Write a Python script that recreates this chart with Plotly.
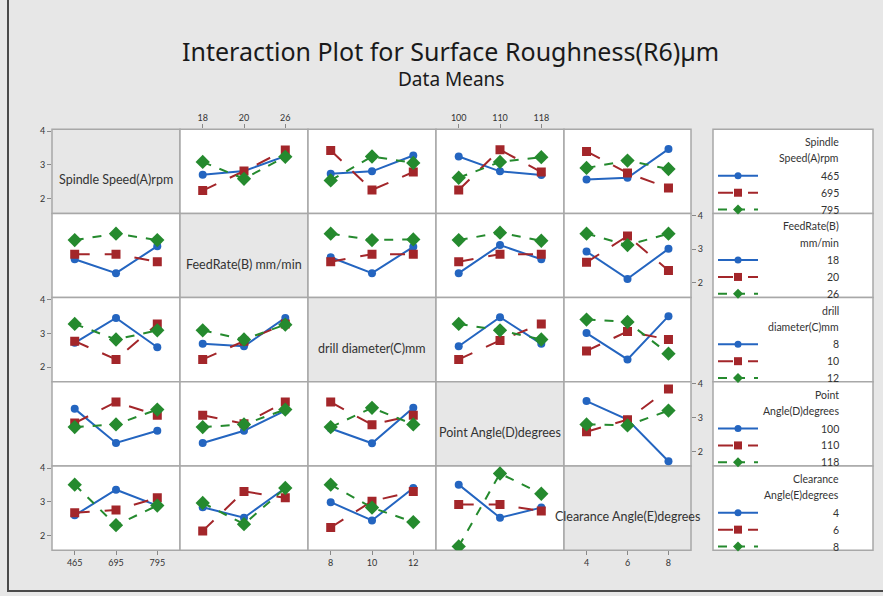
import plotly.graph_objects as go

W, H = 883, 596

factor_labels = ["Spindle Speed(A)rpm", "FeedRate(B) mm/min", "drill diameter(C)mm",
                 "Point Angle(D)degrees", "Clearance Angle(E)degrees"]
legend_titles = [["Spindle", "Speed(A)rpm"], ["FeedRate(B)", "mm/min"], ["drill", "diameter(C)mm"],
                 ["Point", "Angle(D)degrees"], ["Clearance", "Angle(E)degrees"]]
levels_A = ["465", "695", "795"]
levels_B = ["18", "20", "26"]
levels_C = ["8", "10", "12"]
levels_D = ["100", "110", "118"]
levels_E = ["4", "6", "8"]
levels = [levels_A, levels_B, levels_C, levels_D, levels_E]
y_ticks = [2, 3, 4]

# row factor _ column factor : one list per level of the row factor, values over column-factor levels
A_B = [[2.71, 2.82, 3.26], [2.24, 2.82, 3.44], [3.09, 2.59, 3.24]]
A_C = [[2.74, 2.81, 3.28], [3.43, 2.26, 2.79], [2.54, 3.25, 3.06]]
A_D = [[3.25, 2.81, 2.70], [2.26, 3.45, 2.79], [2.62, 3.09, 3.23]]
A_E = [[2.57, 2.62, 3.47], [3.40, 2.76, 2.32], [2.91, 3.13, 2.88]]
B_A = [[2.70, 2.29, 3.09], [2.85, 2.85, 2.63], [3.27, 3.46, 3.27]]
B_C = [[2.76, 2.29, 3.07], [2.63, 2.85, 2.85], [3.46, 3.27, 3.29]]
B_D = [[2.29, 3.12, 2.70], [2.63, 2.85, 2.85], [3.27, 3.49, 3.25]]
B_E = [[2.93, 2.12, 3.01], [2.61, 3.39, 2.37], [3.46, 3.12, 3.46]]
C_A = [[2.72, 3.46, 2.59], [2.77, 2.23, 3.28], [3.28, 2.82, 3.09]]
C_B = [[2.69, 2.62, 3.46], [2.23, 2.77, 3.28], [3.09, 2.82, 3.26]]
C_D = [[2.62, 3.48, 2.69], [2.23, 2.79, 3.28], [3.28, 3.09, 2.82]]
C_E = [[3.01, 2.23, 3.51], [2.48, 3.06, 2.82], [3.41, 3.34, 2.40]]
D_A = [[3.26, 2.25, 2.61], [2.84, 3.46, 3.07], [2.72, 2.80, 3.24]]
D_B = [[2.25, 2.61, 3.21], [3.07, 2.82, 3.46], [2.72, 2.80, 3.24]]
D_C = [[2.68, 2.24, 3.29], [3.46, 2.79, 3.07], [2.72, 3.29, 2.80]]
D_E = [[3.49, 2.94, 1.71], [2.58, 2.94, 3.85], [2.80, 2.77, 3.21]]
E_A = [[2.60, 3.36, 2.89], [2.68, 2.76, 3.12], [3.51, 2.31, 2.89]]
E_B = [[2.84, 2.53, 3.41], [2.14, 3.31, 3.12], [2.97, 2.34, 3.41]]
E_C = [[2.99, 2.45, 3.41], [2.24, 3.02, 3.31], [3.51, 2.83, 2.40]]
E_D = [[3.51, 2.53, 2.83], [2.92, 2.92, 2.73], [1.68, 3.84, 3.24]]

means = {
    (0, 1): A_B, (0, 2): A_C, (0, 3): A_D, (0, 4): A_E,
    (1, 0): B_A, (1, 2): B_C, (1, 3): B_D, (1, 4): B_E,
    (2, 0): C_A, (2, 1): C_B, (2, 3): C_D, (2, 4): C_E,
    (3, 0): D_A, (3, 1): D_B, (3, 2): D_C, (3, 4): D_E,
    (4, 0): E_A, (4, 1): E_B, (4, 2): E_C, (4, 3): E_D,
}

colors = ["#2465C0", "#A3262A", "#258A2E"]
dashes = ["solid", "longdash", "dash"]
symbols = ["circle", "square", "diamond"]
msizes = [8, 9, 11]

col_px = [52, 180, 308, 436, 564, 691]
row_px = [126, 210.8, 295.6, 380.4, 465.2, 550]
Y_RANGE = [1.565, 4.06]
X_RANGE = [-0.55, 2.55]

def px(x):
    return x / W

def py(y):
    return 1 - y / H

LINE_COL = "#a8a8a8"
FONT = "Lato, Noto Sans, sans-serif"
TICK_FONT = dict(family=FONT, size=9, color="#333")
BG = "#e7e7e7"

fig = go.Figure()
layout = {}
shapes = []
annotations = []

for r in range(5):
    for c in range(5):
        k = r * 5 + c + 1
        xname = "x" if k == 1 else f"x{k}"
        yname = "y" if k == 1 else f"y{k}"
        xa = dict(domain=[px(col_px[c]), px(col_px[c + 1])], anchor=yname, range=X_RANGE,
                  tickvals=list(range(len(levels[c]))), ticktext=levels[c],
                  showgrid=False, zeroline=False, showline=False,
                  showticklabels=False, ticks="", tickfont=TICK_FONT, fixedrange=True)
        ya = dict(domain=[py(row_px[r + 1]), py(row_px[r])], anchor=xname, range=Y_RANGE,
                  tickvals=y_ticks, showgrid=False, zeroline=False, showline=False,
                  showticklabels=False, ticks="", tickfont=TICK_FONT, fixedrange=True)
        if r == 0 and c in (1, 3):
            xa.update(side="top", showticklabels=True, ticks="outside", ticklen=4, tickcolor="#888")
        if r == 4 and c in (0, 2, 4):
            xa.update(side="bottom", showticklabels=True, ticks="outside", ticklen=4, tickcolor="#888")
        if c == 0 and r in (0, 2, 4):
            ya.update(side="left", showticklabels=True, ticks="outside", ticklen=4, tickcolor="#888")
        if c == 4 and r in (1, 3):
            ya.update(side="right", showticklabels=True, ticks="outside", ticklen=4, tickcolor="#888")
        layout["xaxis" if k == 1 else f"xaxis{k}"] = xa
        layout["yaxis" if k == 1 else f"yaxis{k}"] = ya

        # panel background + frame
        shapes.append(dict(type="rect", xref="paper", yref="paper",
                           x0=px(col_px[c]), x1=px(col_px[c + 1]), y0=py(row_px[r + 1]), y1=py(row_px[r]),
                           fillcolor=BG if r == c else "white", line=dict(color=LINE_COL, width=1.5),
                           layer="below"))

        if r == c:
            # empty trace so the subplot (and its tick labels) is drawn
            fig.add_trace(go.Scatter(x=[], y=[], xaxis=xname, yaxis=yname, showlegend=False))
            annotations.append(dict(text=factor_labels[r], xref="paper", yref="paper",
                                    x=px((col_px[c] + col_px[c + 1]) / 2), y=py(row_px[r] + 51),
                                    showarrow=False, xanchor="center", yanchor="middle",
                                    font=dict(family=FONT, size=12.5, color="#333")))
            continue
        series = means[(r, c)]
        for i, vals in enumerate(series):
            fig.add_trace(go.Scatter(
                x=list(range(len(levels[c]))), y=vals, xaxis=xname, yaxis=yname,
                mode="lines+markers", showlegend=False, cliponaxis=True,
                line=dict(color=colors[i], width=2, dash=dashes[i]),
                marker=dict(symbol=symbols[i], size=msizes[i], color=colors[i]),
                hovertemplate=f"{levels[r][i]}: %{{y}}<extra></extra>"))

# legends (one box per row factor)
for r in range(5):
    top = row_px[r]
    bot = row_px[r + 1]
    shapes.append(dict(type="rect", xref="paper", yref="paper", x0=px(713), x1=px(873),
                       y0=py(bot), y1=py(top), fillcolor="white", line=dict(color=LINE_COL, width=1.5),
                       layer="below"))
    for j, t in enumerate(legend_titles[r]):
        annotations.append(dict(text=t, xref="paper", yref="paper", x=px(841), y=py(top + 13 + 16.5 * j),
                                showarrow=False, xanchor="right", yanchor="middle",
                                font=dict(family=FONT, size=10.5, color="#333")))
    for i in range(3):
        yy = top + 47 + 17 * i
        annotations.append(dict(text=levels[r][i], xref="paper", yref="paper", x=px(841), y=py(yy),
                                showarrow=False, xanchor="right", yanchor="middle",
                                font=dict(family=FONT, size=10.5, color="#333")))
        shapes.append(dict(type="line", xref="paper", yref="paper", x0=px(718), x1=px(758),
                           y0=py(yy), y1=py(yy), line=dict(color=colors[i], width=2, dash=dashes[i])))
        common = dict(xref="paper", yref="paper", xsizemode="pixel", ysizemode="pixel",
                      xanchor=px(738), yanchor=py(yy), fillcolor=colors[i], line_width=0)
        if i == 0:
            shapes.append(dict(type="circle", x0=-3.5, x1=3.5, y0=-3.5, y1=3.5, **common))
        elif i == 1:
            shapes.append(dict(type="rect", x0=-4, x1=4, y0=-4, y1=4, **common))
        else:
            shapes.append(dict(type="path", path="M 0 -5 L 5 0 L 0 5 L -5 0 Z", **common))

# titles
annotations.append(dict(text="Interaction Plot for Surface Roughness(R6)µm", xref="paper", yref="paper",
                        x=px(450), y=py(47), showarrow=False, xanchor="center", yanchor="middle",
                        font=dict(family="Noto Sans, sans-serif", size=25, color="#1a1a1a")))
annotations.append(dict(text="Data Means", xref="paper", yref="paper",
                        x=px(451), y=py(76), showarrow=False, xanchor="center", yanchor="middle",
                        font=dict(family="Noto Sans, sans-serif", size=19, color="#1a1a1a")))

# outer frame
shapes.append(dict(type="rect", xref="paper", yref="paper", x0=px(8), x1=1.02, y0=py(591), y1=1.05,
                   line=dict(color="#4a4a4a", width=2), fillcolor="rgba(0,0,0,0)", layer="above"))

layout.update(width=W, height=H, margin=dict(l=0, r=0, t=0, b=0), paper_bgcolor=BG,
              plot_bgcolor="rgba(0,0,0,0)", shapes=shapes, annotations=annotations, showlegend=False)
fig.update_layout(**layout)
fig.write_html("out.html", config={"displayModeBar": False},
               post_script="document.body.style.margin='0';document.body.style.overflow='hidden';")
